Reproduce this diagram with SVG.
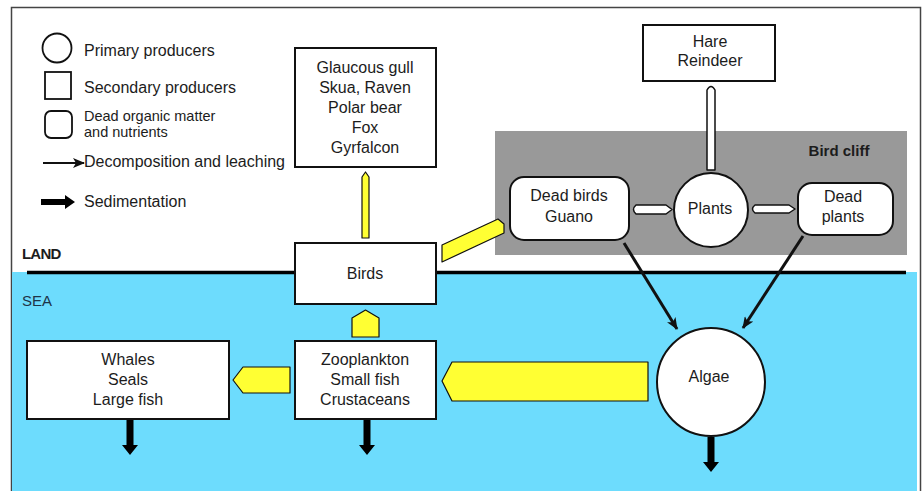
<svg xmlns="http://www.w3.org/2000/svg" width="924" height="491" viewBox="0 0 924 491">
<defs>
<style>
text{font-family:"Liberation Sans",Arial,sans-serif;fill:#1c1c1c}
.t{font-size:16px;text-anchor:middle}
.l{font-size:16px}
.box{fill:#fff;stroke:#111;stroke-width:2}
.yel{fill:#ffff33;stroke:#111;stroke-width:1.2;stroke-linejoin:round}
.wht{fill:#fff;stroke:#111;stroke-width:1.5;stroke-linejoin:round}
.sed{fill:#000}
.dec{stroke:#111;stroke-width:3;fill:none}
</style>
<marker id="ah" viewBox="0 0 12 10" refX="11" refY="5" markerWidth="12" markerHeight="10" markerUnits="userSpaceOnUse" orient="auto">
<path d="M0,0 L12,5 L0,10 L3,5 Z" fill="#111"/>
</marker>
</defs>

<g id="background">
<rect x="11.5" y="7.5" width="909" height="495" fill="#fff" stroke="#444" stroke-width="1.5"/>
<rect x="12" y="272" width="905" height="219" fill="#6ddcfd"/>
<rect x="495" y="131" width="412" height="124" fill="#999"/>
<line x1="27" y1="272.5" x2="906" y2="272.5" stroke="#000" stroke-width="3.5"/>
<text x="22" y="259" style="font-size:15px;font-weight:bold;letter-spacing:-0.8px">LAND</text>
<text x="22" y="306" style="font-size:15px;fill:#1e3448">SEA</text>
<text x="839" y="156" style="font-size:15px;font-weight:bold;text-anchor:middle">Bird cliff</text>
</g>

<g id="legend">
<circle cx="57" cy="48" r="14.5" fill="#fff" stroke="#111" stroke-width="1.8"/>
<text class="l" x="84" y="56">Primary producers</text>
<rect x="45" y="72" width="26" height="27" fill="#fff" stroke="#111" stroke-width="1.8"/>
<text class="l" x="84" y="93">Secondary producers</text>
<rect x="45" y="111" width="27" height="27" rx="6" fill="#fff" stroke="#111" stroke-width="1.8"/>
<text x="84" y="121" style="font-size:14.5px">Dead organic matter</text>
<text x="84" y="137" style="font-size:14.5px">and nutrients</text>
<line x1="43" y1="163" x2="84" y2="163" stroke="#111" stroke-width="2" marker-end="url(#ah)"/>
<text class="l" x="84" y="167">Decomposition and leaching</text>
<path class="sed" d="M41,199 L65,199 L65,195 L75,202 L65,209 L65,205 L41,205 Z"/>
<text class="l" x="84" y="207">Sedimentation</text>
</g>

<g id="connectors">
<path class="yel" d="M362,238 L362,177 L365.5,172 L369,177 L369,238 Z"/>
<path class="yel" d="M352,337 L352,318 L365.5,310 L379,318 L379,337 Z"/>
<path class="yel" d="M290,367 L243,367 L233,380 L243,393 L290,393 Z"/>
<path class="yel" d="M648,362 L452,362 L442,381 L452,401 L648,401 Z"/>
<path class="yel" d="M442,245 L498,219 L504,224 L504,233 L442,262 Z"/>
<path class="wht" d="M707,170 L707,90 Q711,83 715,90 L715,170 Z"/>
<path class="wht" d="M636,205 L666,205 L672,209.5 L666,214 L636,214 Q631,209.5 636,205 Z"/>
<path class="wht" d="M755,205 L789,205 L795,209 L789,213 L755,213 Q750,209 755,205 Z"/>
<line class="dec" x1="624" y1="243" x2="677" y2="329" marker-end="url(#ah)"/>
<line class="dec" x1="803" y1="236" x2="743" y2="328" marker-end="url(#ah)"/>
<path class="sed" d="M126.5,419 L133.5,419 L133.5,445 L138,445 L130,455 L122,445 L126.5,445 Z"/>
<path class="sed" d="M363.5,419 L370.5,419 L370.5,445 L375,445 L367,455 L359,445 L363.5,445 Z"/>
<path class="sed" d="M707.5,437 L714.5,437 L714.5,462 L719,462 L711,472 L703,462 L707.5,462 Z"/>
</g>

<g id="node-predators">
<rect class="box" x="295" y="48" width="141" height="119"/>
<text class="t" x="365" y="73">Glaucous gull</text>
<text class="t" x="365" y="93">Skua, Raven</text>
<text class="t" x="365" y="113">Polar bear</text>
<text class="t" x="365" y="133">Fox</text>
<text class="t" x="365" y="153">Gyrfalcon</text>
</g>

<g id="node-hare">
<rect class="box" x="643" y="25" width="132" height="56"/>
<text class="t" x="710" y="47">Hare</text>
<text class="t" x="710" y="66">Reindeer</text>
</g>

<g id="node-birds">
<rect class="box" x="295" y="243" width="141" height="61"/>
<text class="t" x="365" y="279">Birds</text>
</g>

<g id="node-deadbirds">
<rect class="box" x="510" y="177" width="119" height="63" rx="14"/>
<text class="t" x="569" y="201">Dead birds</text>
<text class="t" x="569" y="222">Guano</text>
</g>

<g id="node-plants">
<circle cx="711" cy="210" r="37" fill="#fff" stroke="#111" stroke-width="2"/>
<text class="t" x="710" y="214">Plants</text>
</g>

<g id="node-deadplants">
<rect class="box" x="798" y="183" width="95" height="52" rx="14"/>
<text class="t" x="843" y="202">Dead</text>
<text class="t" x="843" y="222">plants</text>
</g>

<g id="node-zooplankton">
<rect class="box" x="295" y="341" width="141" height="78"/>
<text class="t" x="365" y="365">Zooplankton</text>
<text class="t" x="365" y="385">Small fish</text>
<text class="t" x="365" y="405">Crustaceans</text>
</g>

<g id="node-whales">
<rect class="box" x="27" y="341" width="202" height="78"/>
<text class="t" x="128" y="365">Whales</text>
<text class="t" x="128" y="385">Seals</text>
<text class="t" x="128" y="405">Large fish</text>
</g>

<g id="node-algae">
<circle cx="711" cy="382" r="54" fill="#fff" stroke="#111" stroke-width="2"/>
<text class="t" x="709" y="382">Algae</text>
</g>
</svg>
